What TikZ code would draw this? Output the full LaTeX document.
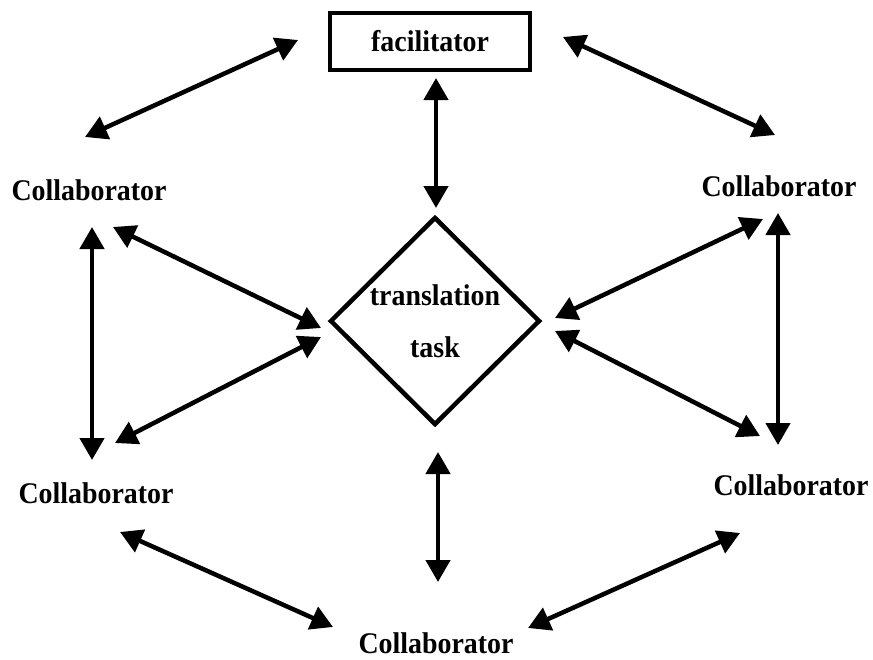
\documentclass[tikz,border=0pt]{standalone}
\usepackage{fontspec}
\setmainfont[FakeStretch=0.93]{Liberation Serif}
\usetikzlibrary{arrows.meta,shapes.geometric}
\begin{document}
\begin{tikzpicture}[x=1pt,y=-1pt,
  label text/.style={font=\fontsize{30pt}{36pt}\selectfont\bfseries, inner sep=0pt},
  collab/.style={label text, anchor=base},
  link/.style={line width=4.5pt,
    {Triangle[length=22pt,width=24pt]}-{Triangle[length=22pt,width=24pt]}}]
\useasboundingbox (0,0) rectangle (873,659);

% central elements
\node[label text, draw, line width=4.5pt, minimum width=200pt, minimum height=57pt]
  (fac) at (430,41.5) {facilitator};
\node[diamond, draw, line width=4.5pt, inner sep=0pt, align=center,
      minimum width=210pt, minimum height=208pt,
      font=\fontsize{30pt}{52pt}\selectfont\bfseries]
  (task) at (435,321) {translation\\task};

% collaborators
\node[collab] (cTL) at (89,200) {Collaborator};
\node[collab] (cTR) at (779,196) {Collaborator};
\node[collab] (cBL) at (96,503) {Collaborator};
\node[collab] (cBR) at (791,495) {Collaborator};
\node[collab] (cB)  at (436,653) {Collaborator};

% arrow end points
\coordinate (a1) at (85,137);   \coordinate (b1) at (298,40);
\coordinate (a2) at (563,37);   \coordinate (b2) at (775,135);
\coordinate (a3) at (436,78);   \coordinate (b3) at (436,208);
\coordinate (a4) at (92,227);   \coordinate (b4) at (92,460);
\coordinate (a5) at (113,227);  \coordinate (b5) at (321,328);
\coordinate (a6) at (115,443);  \coordinate (b6) at (321,337);
\coordinate (a7) at (555,318);  \coordinate (b7) at (763,219);
\coordinate (a8) at (555,331);  \coordinate (b8) at (760,436);
\coordinate (a9) at (778,213);  \coordinate (b9) at (778,445);
\coordinate (a10) at (438,452); \coordinate (b10) at (438,582);
\coordinate (a11) at (120,532); \coordinate (b11) at (333,627);
\coordinate (a12) at (528,628); \coordinate (b12) at (740,533);

% two-way links
\foreach \i in {1,...,12}
  \draw[link] (a\i) -- (b\i);
\end{tikzpicture}
\end{document}
